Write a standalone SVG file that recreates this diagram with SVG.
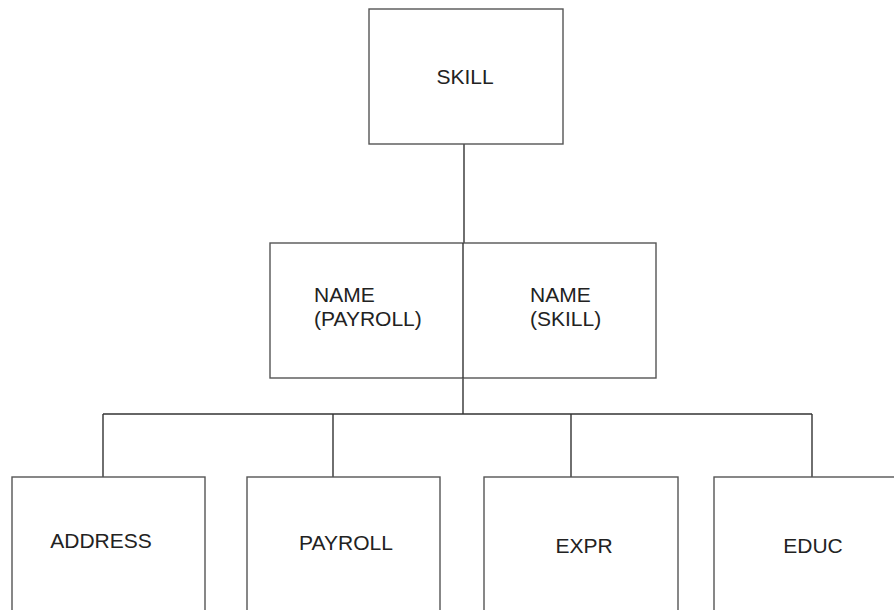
<svg xmlns="http://www.w3.org/2000/svg" width="894" height="610" viewBox="0 0 894 610">
<style>
.box{fill:#fff;stroke:#555;stroke-width:1.4}
.ln{fill:none;stroke:#333;stroke-width:1.4}
text{font-family:"Liberation Sans",Arial,sans-serif;font-size:21px;fill:#222}
</style>
<rect width="894" height="610" fill="#fff"/>
<g id="connectors">
<line class="ln" x1="464" y1="144" x2="464" y2="243"/>
<line class="ln" x1="463" y1="378" x2="463" y2="414"/>
<line class="ln" x1="103" y1="414" x2="812" y2="414"/>
<line class="ln" x1="103" y1="414" x2="103" y2="477"/>
<line class="ln" x1="333" y1="414" x2="333" y2="477"/>
<line class="ln" x1="571" y1="414" x2="571" y2="477"/>
<line class="ln" x1="812" y1="414" x2="812" y2="477"/>
</g>
<g id="skill">
<rect class="box" x="369" y="9" width="194" height="135"/>
<text x="465" y="84" text-anchor="middle">SKILL</text>
</g>
<g id="name">
<rect class="box" x="270" y="243" width="386" height="135"/>
<line class="ln" x1="463" y1="243" x2="463" y2="378"/>
<text x="314" y="302">NAME</text>
<text x="314" y="326">(PAYROLL)</text>
<text x="530" y="302">NAME</text>
<text x="530" y="326">(SKILL)</text>
</g>
<g id="address">
<rect class="box" x="12" y="477" width="193" height="150"/>
<text x="101" y="548" text-anchor="middle">ADDRESS</text>
</g>
<g id="payroll">
<rect class="box" x="247" y="477" width="193" height="150"/>
<text x="346" y="550" text-anchor="middle">PAYROLL</text>
</g>
<g id="expr">
<rect class="box" x="484" y="477" width="194" height="150"/>
<text x="584" y="553" text-anchor="middle">EXPR</text>
</g>
<g id="educ">
<rect class="box" x="714" y="477" width="200" height="150"/>
<text x="813" y="553" text-anchor="middle">EDUC</text>
</g>
</svg>
